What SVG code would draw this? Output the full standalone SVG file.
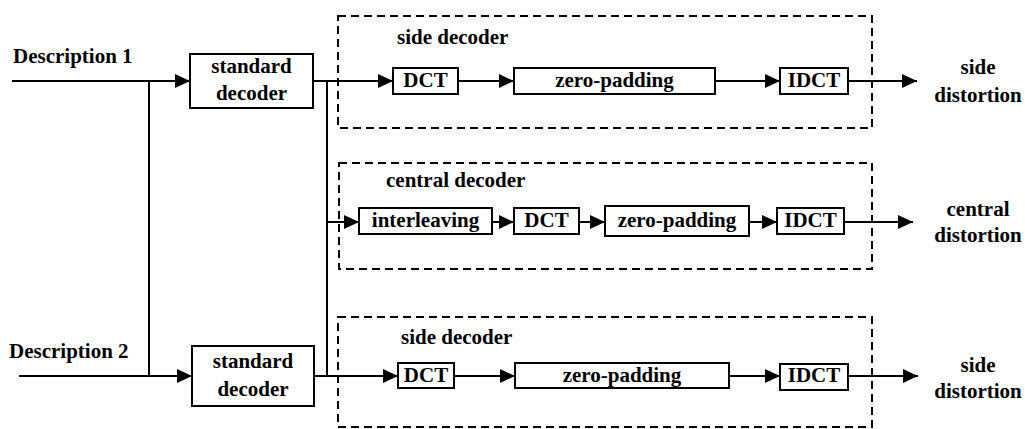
<svg xmlns="http://www.w3.org/2000/svg" width="1025" height="429" viewBox="0 0 1025 429">
<style>
text{font-family:'Liberation Serif','DejaVu Serif',serif;font-weight:700;font-size:21px;fill:#000}
.m{text-anchor:middle}
.box{fill:#fff;stroke:#000;stroke-width:2}
.dash{fill:none;stroke:#000;stroke-width:2;stroke-dasharray:8 5}
.ln{fill:none;stroke:#000;stroke-width:2}
.arr{fill:none;stroke:#000;stroke-width:2;marker-end:url(#ah)}
</style>
<defs>
<marker id="ah" markerUnits="userSpaceOnUse" markerWidth="16" markerHeight="14" refX="15" refY="7" orient="auto">
<path d="M0,0 L15,7 L0,14 Z" fill="#000"/>
</marker>
</defs>
<rect width="1025" height="429" fill="#fff"/>
<g id="groups">
<g id="side1"><rect class="dash" x="338" y="16" width="534" height="112"/><text x="397" y="44">side decoder</text></g>
<g id="central"><rect class="dash" x="339" y="163" width="533" height="106"/><text x="386" y="187">central decoder</text></g>
<g id="side2"><rect class="dash" x="338" y="317" width="534" height="110"/><text x="401" y="344">side decoder</text></g>
</g>
<g id="connectors">
<path class="arr" d="M12,81 H190"/>
<path class="ln" d="M149,81 V376"/>
<path class="arr" d="M19,376 H192"/>
<path class="arr" d="M313,81 H393"/>
<path class="ln" d="M327,81 V376"/>
<path class="arr" d="M327,222 H359"/>
<path class="arr" d="M314,376 H398"/>
<path class="arr" d="M458,81 H514"/>
<path class="arr" d="M715,81 H780"/>
<path class="arr" d="M848,81 H917"/>
<path class="arr" d="M492,222 H514"/>
<path class="arr" d="M579,222 H605"/>
<path class="arr" d="M749,222 H777"/>
<path class="arr" d="M844,222 H913"/>
<path class="arr" d="M454,376 H515"/>
<path class="arr" d="M729,376 H780"/>
<path class="arr" d="M848,376 H918"/>
</g>
<g id="desc1"><text x="13" y="63">Description 1</text></g>
<g id="desc2"><text x="9" y="358">Description 2</text></g>
<g id="std1"><rect class="box" x="190" y="54" width="123" height="54"/><text class="m" x="251.5" y="73">standard</text><text class="m" x="251.5" y="100">decoder</text></g>
<g id="std2"><rect class="box" x="192" y="346" width="122" height="60"/><text class="m" x="253" y="368">standard</text><text class="m" x="253" y="396">decoder</text></g>
<g id="dct1"><rect class="box" x="393" y="68" width="65" height="26"/><text class="m" x="425.5" y="87">DCT</text></g>
<g id="zp1"><rect class="box" x="514" y="68" width="201" height="26"/><text class="m" x="614.5" y="87">zero-padding</text></g>
<g id="idct1"><rect class="box" x="780" y="68" width="68" height="26"/><text class="m" x="814" y="87">IDCT</text></g>
<g id="inter"><rect class="box" x="359" y="208" width="133" height="26"/><text class="m" x="425.5" y="227">interleaving</text></g>
<g id="dct2"><rect class="box" x="514" y="208" width="65" height="26"/><text class="m" x="546.5" y="227">DCT</text></g>
<g id="zp2"><rect class="box" x="605" y="206" width="144" height="30"/><text class="m" x="677" y="227">zero-padding</text></g>
<g id="idct2"><rect class="box" x="777" y="208" width="67" height="26"/><text class="m" x="810.5" y="227">IDCT</text></g>
<g id="dct3"><rect class="box" x="398" y="363" width="56" height="25"/><text class="m" x="426" y="382">DCT</text></g>
<g id="zp3"><rect class="box" x="515" y="363" width="214" height="25"/><text class="m" x="622" y="382">zero-padding</text></g>
<g id="idct3"><rect class="box" x="780" y="364" width="68" height="26"/><text class="m" x="814" y="382">IDCT</text></g>
<g id="out1"><text class="m" x="978" y="74">side</text><text class="m" x="978" y="102">distortion</text></g>
<g id="out2"><text class="m" x="978" y="216">central</text><text class="m" x="978" y="242">distortion</text></g>
<g id="out3"><text class="m" x="978" y="372">side</text><text class="m" x="978" y="398">distortion</text></g>
</svg>
